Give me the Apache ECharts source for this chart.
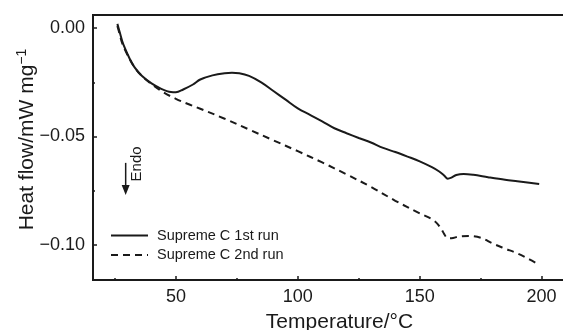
<!DOCTYPE html>
<html>
<head>
<meta charset="utf-8">
<script src="https://cdn.jsdelivr.net/npm/echarts@6/dist/echarts.min.js"></script>
<style>
html,body{margin:0;padding:0;background:#fff;}
#chart{width:563px;height:330px;}
</style>
</head>
<body>
<div id="chart"></div>
<script>
// ---- data ----
const seriesNames = ['Supreme C 1st run', 'Supreme C 2nd run'];
const temp1st = [26, 27, 28, 29, 31, 33, 36, 40, 44, 48, 50, 53, 57, 60, 65, 70, 73, 76, 80, 85, 90, 95, 100, 105, 110, 115, 120, 125, 130, 135, 140, 145, 150, 155, 158, 160, 161.5, 163, 165, 168, 172, 178, 185, 190, 195, 199];
const heat1st = [0.002, -0.002, -0.006, -0.009, -0.014, -0.018, -0.022, -0.0255, -0.028, -0.0295, -0.0296, -0.0283, -0.026, -0.0237, -0.0218, -0.0208, -0.0206, -0.0208, -0.022, -0.025, -0.029, -0.033, -0.037, -0.040, -0.043, -0.0462, -0.0485, -0.0507, -0.0528, -0.0553, -0.0572, -0.0593, -0.0615, -0.0642, -0.0662, -0.0680, -0.0695, -0.0690, -0.0678, -0.0673, -0.0677, -0.0688, -0.0700, -0.0707, -0.0714, -0.0720];
const temp2nd = [26, 27, 28, 30, 33, 36, 40, 45, 50, 55, 60, 70, 80, 90, 100, 110, 120, 130, 140, 150, 155, 157, 159, 160, 161.5, 163, 166, 170, 175, 180, 185, 190, 195, 199];
const heat2nd = [0.001, -0.003, -0.007, -0.012, -0.018, -0.022, -0.0258, -0.0297, -0.0326, -0.0350, -0.0372, -0.0418, -0.0468, -0.0518, -0.0568, -0.0620, -0.0675, -0.0733, -0.0797, -0.0855, -0.0882, -0.0900, -0.0930, -0.0950, -0.0970, -0.0970, -0.0962, -0.0960, -0.0968, -0.0995, -0.1018, -0.1040, -0.1068, -0.1092];
const xMajorTicks = [50, 100, 150, 200];
const xMinorTicks = [25, 75, 125, 175];
const yMajorTicks = [0, -0.05, -0.10];
const yMinorTicks = [-0.025, -0.075];
const xTitle = 'Temperature/°C';
const yTitle = 'Heat flow/mW mg';
const endoLabel = 'Endo';

// ---- chart ----
const FONT = "'Liberation Sans', Arial, Helvetica, sans-serif";
const INK = '#1a1a1a';
const XMIN = 16, XMAX = 210, YMIN = -0.1163, YMAX = 0.0061;

const chart = echarts.init(document.getElementById('chart'), null, {renderer: 'canvas'});

function zip(a, b) { return a.map((v, i) => [v, b[i]]); }
function fmtY(v) {
  const s = Math.abs(v).toFixed(2);
  return (v < -1e-9 ? '\u2212' : '') + s;
}

const option = {
  animation: false,
  backgroundColor: '#fff',
  textStyle: {fontFamily: FONT, color: INK},
  grid: {
    left: 93, right: -3, top: 15, bottom: 50,
    containLabel: false, outerBoundsMode: 'none',
    show: true, borderColor: INK, borderWidth: 2, backgroundColor: 'transparent'
  },
  legend: {
    orient: 'vertical',
    left: 105, top: 223,
    itemWidth: 37, itemHeight: 14, itemGap: 4.5,
    data: seriesNames,
    itemStyle: {color: 'transparent', borderColor: 'transparent', borderWidth: 0, opacity: 0},
    textStyle: {fontFamily: FONT, fontSize: 14.5, color: INK, padding: [0, 0, 0, 4]}
  },
  xAxis: [{
    type: 'value', min: XMIN, max: XMAX,
    name: xTitle, nameLocation: 'middle', nameGap: 32,
    nameTextStyle: {fontFamily: FONT, fontSize: 21, color: INK, padding: [0, 0, 0, 20]},
    axisLine: {show: true, onZero: false, lineStyle: {color: INK, width: 2}},
    axisTick: {show: true, inside: true, length: 4, customValues: xMajorTicks, lineStyle: {color: INK, width: 1.5}},
    axisLabel: {show: true, margin: 8, customValues: xMajorTicks, fontFamily: FONT, fontSize: 18, color: INK},
    splitLine: {show: false}
  }, {
    type: 'value', min: XMIN, max: XMAX, position: 'bottom',
    axisLine: {show: false, onZero: false},
    axisTick: {show: true, inside: true, length: 2, customValues: xMinorTicks, lineStyle: {color: INK, width: 1.5}},
    axisLabel: {show: false},
    splitLine: {show: false}
  }],
  yAxis: [{
    type: 'value', min: YMIN, max: YMAX,
    name: yTitle + '{sup|\u22121}', nameLocation: 'middle', nameGap: 54, nameRotate: 90,
    nameMoveOverlap: false,
    nameTextStyle: {fontFamily: FONT, fontSize: 21, color: INK, padding: [0, 0, 0, 16],
      rich: {sup: {fontFamily: FONT, fontSize: 14, color: INK, verticalAlign: 'top', padding: [0, 0, 10, 0]}}},
    axisLine: {show: true, onZero: false, lineStyle: {color: INK, width: 2}},
    axisTick: {show: true, inside: true, length: 4, customValues: yMajorTicks, lineStyle: {color: INK, width: 1.5}},
    axisLabel: {show: true, margin: 8, customValues: yMajorTicks, formatter: fmtY, fontFamily: FONT, fontSize: 18, color: INK},
    splitLine: {show: false}
  }, {
    type: 'value', min: YMIN, max: YMAX, position: 'left',
    axisLine: {show: false, onZero: false},
    axisTick: {show: true, inside: true, length: 2, customValues: yMinorTicks, lineStyle: {color: INK, width: 1.5}},
    axisLabel: {show: false},
    splitLine: {show: false}
  }],
  series: [{
    name: seriesNames[0], type: 'line', xAxisIndex: 0, yAxisIndex: 0,
    data: zip(temp1st, heat1st), symbol: 'none', smooth: 0.35,
    lineStyle: {color: INK, width: 2, type: 'solid'}, itemStyle: {color: INK}
  }, {
    name: seriesNames[1], type: 'line', xAxisIndex: 0, yAxisIndex: 0,
    data: zip(temp2nd, heat2nd), symbol: 'none', smooth: 0.35,
    lineStyle: {color: INK, width: 2, type: [7, 5]}, itemStyle: {color: INK}
  }]
};
chart.setOption(option);

// Endo arrow annotation positioned in data space
const arrowTop = chart.convertToPixel({xAxisIndex: 0, yAxisIndex: 0}, [29.4, -0.0622]);
const arrowTip = chart.convertToPixel({xAxisIndex: 0, yAxisIndex: 0}, [29.4, -0.0770]);
const endoPos = chart.convertToPixel({xAxisIndex: 0, yAxisIndex: 0}, [34.0, -0.0627]);
chart.setOption({
  graphic: [
    {type: 'line', shape: {x1: arrowTop[0], y1: arrowTop[1], x2: arrowTip[0], y2: arrowTip[1] - 8}, style: {stroke: INK, lineWidth: 1.5}},
    {type: 'polygon', shape: {points: [[arrowTip[0] - 4, arrowTip[1] - 10], [arrowTip[0] + 4, arrowTip[1] - 10], [arrowTip[0], arrowTip[1]]]}, style: {fill: INK}},
    {type: 'text', x: endoPos[0], y: endoPos[1], rotation: Math.PI / 2,
      style: {text: endoLabel, font: '15px ' + FONT, fill: INK, align: 'center', verticalAlign: 'middle'}}
  ]
});
</script>
</body>
</html>
